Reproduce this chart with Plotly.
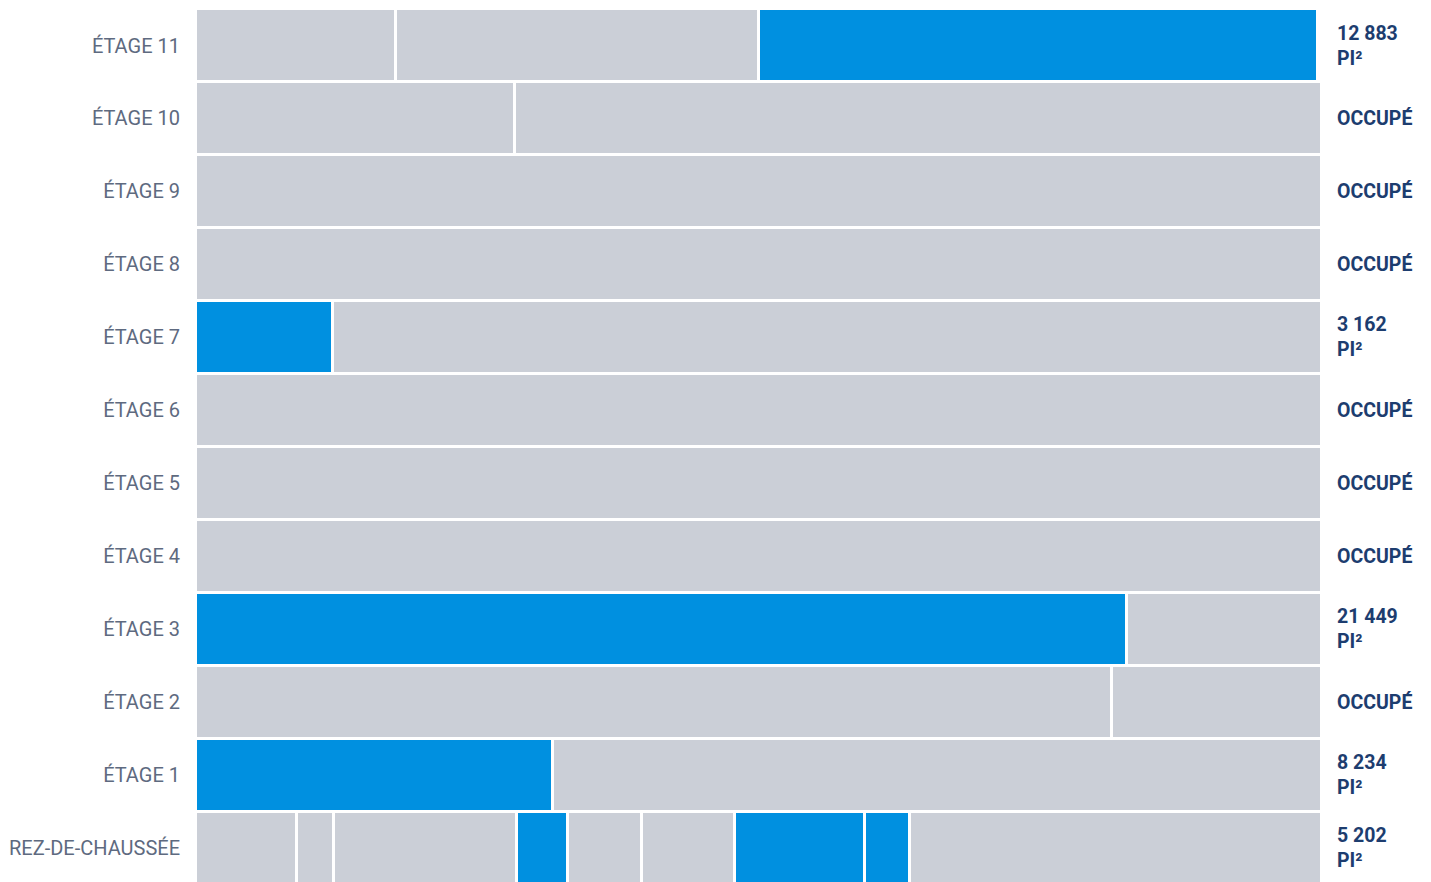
import plotly.graph_objects as go

# Floors from bottom to top
floors = ["REZ-DE-CHAUSSÉE", "ÉTAGE 1", "ÉTAGE 2", "ÉTAGE 3", "ÉTAGE 4", "ÉTAGE 5",
          "ÉTAGE 6", "ÉTAGE 7", "ÉTAGE 8", "ÉTAGE 9", "ÉTAGE 10", "ÉTAGE 11"]

# Suite areas (pi²) per floor, left to right
suites_rdc = [2333, 855, 4204, 1170, 1709, 2148, 2995, 1037, 9489]
suites_e1 = [8234, 17706]
suites_e2 = [21102, 4838]
suites_e3 = [21449, 4491]
suites_e4 = [25940]
suites_e5 = [25940]
suites_e6 = [25940]
suites_e7 = [3162, 22778]
suites_e8 = [25940]
suites_e9 = [25940]
suites_e10 = [7357, 18583]
suites_e11 = [4608, 8362, 12883]

# 1 = available for lease, 0 = occupied
avail_rdc = [0, 0, 0, 1, 0, 0, 1, 1, 0]
avail_e1 = [1, 0]
avail_e2 = [0, 0]
avail_e3 = [1, 0]
avail_e4 = [0]
avail_e5 = [0]
avail_e6 = [0]
avail_e7 = [1, 0]
avail_e8 = [0]
avail_e9 = [0]
avail_e10 = [0, 0]
avail_e11 = [0, 0, 1]

floor_total = 25940

suites = [suites_rdc, suites_e1, suites_e2, suites_e3, suites_e4, suites_e5,
          suites_e6, suites_e7, suites_e8, suites_e9, suites_e10, suites_e11]
avail = [avail_rdc, avail_e1, avail_e2, avail_e3, avail_e4, avail_e5,
         avail_e6, avail_e7, avail_e8, avail_e9, avail_e10, avail_e11]

GRAY = "#CBCFD7"
BLUE = "#0090E0"
LABEL = "#5E6A80"
NAVY = "#1D3D6F"
FONT = "Roboto"

fig = go.Figure()

for floor, sizes, flags in zip(floors, suites, avail):
    for size, free in zip(sizes, flags):
        fig.add_trace(go.Bar(
            y=[floor], x=[size], orientation="h",
            marker=dict(color=BLUE if free else GRAY,
                        line=dict(color="white", width=3)),
            showlegend=False, hoverinfo="skip",
        ))

# Available area (or occupied status) to the right of each floor
for floor, sizes, flags in zip(floors, suites, avail):
    free_area = sum(s for s, f in zip(sizes, flags) if f)
    if free_area:
        text = f"{free_area:,}".replace(",", " ") + "<br>PI²"
    else:
        text = "OCCUPÉ"
    fig.add_annotation(
        x=1, xref="paper", y=floor, yref="y",
        xanchor="left", yanchor="middle", xshift=13, yshift=0, align="left",
        text=f"<b>{text}</b>", showarrow=False,
        font=dict(family=FONT, size=19.5, color=NAVY),
    )

fig.update_layout(
    barmode="stack",
    bargap=0,
    width=1431, height=882,
    margin=dict(l=196, r=109, t=9, b=0),
    paper_bgcolor="white", plot_bgcolor="white",
    font=dict(family=FONT),
)
fig.update_xaxes(range=[0, floor_total], visible=False, fixedrange=True)
# Ground floor runs slightly past the bottom edge of the plot
fig.update_yaxes(
    categoryorder="array", categoryarray=floors,
    range=[-0.46, 11.5],
    showgrid=False, zeroline=False, showline=False,
    ticks="outside", ticklen=11, tickcolor="rgba(0,0,0,0)",
    tickfont=dict(family=FONT, size=20, color=LABEL),
    fixedrange=True,
)

fig.write_html("out.html")
